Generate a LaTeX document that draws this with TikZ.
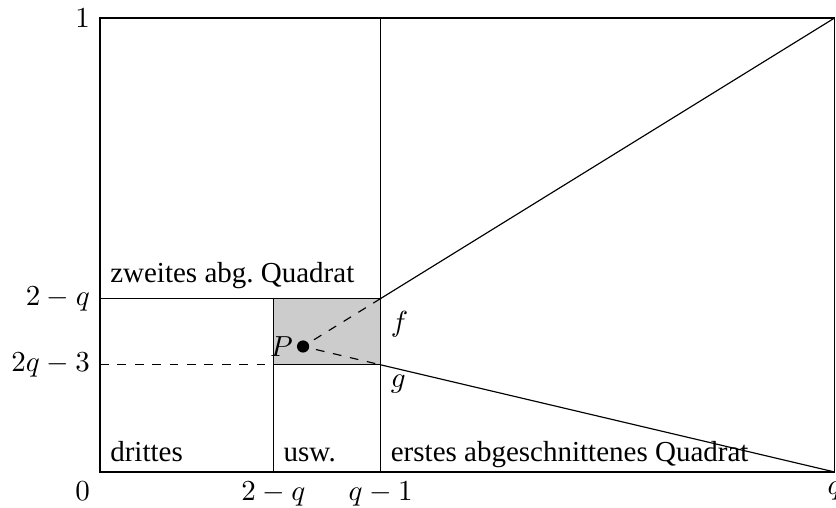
\documentclass[tikz,border=0pt]{standalone}
\usepackage[no-math]{fontspec}
\setmainfont{Liberation Serif}

\begin{document}
\begin{tikzpicture}[x=5.5cm,y=5.5cm,
	feld/.style={above right,text depth=0pt}]
\useasboundingbox (-0.2203,-0.0793) rectangle (1.6211,1.0396);

\def\q{1.618034}
% Fixpunkt der beiden Abbildungen
\def\px{0.447214}
\def\py{0.276393}

\coordinate (O) at (0,0);
\coordinate (A) at ({2-\q},0);
\coordinate (B) at ({\q-1},0);
\coordinate (C) at (\q,0);
\coordinate (D) at (\q,1);
\coordinate (E) at (0,1);
\coordinate (T) at ({\q-1},1);
\coordinate (L) at (0,{2-\q});
\coordinate (M) at (0,{2*\q-3});
\coordinate (K) at ({2-\q},{2-\q});
\coordinate (H) at ({2-\q},{2*\q-3});
\coordinate (F) at ({\q-1},{2-\q});
\coordinate (G) at ({\q-1},{2*\q-3});
\coordinate (P) at (\px,\py);

\filldraw[fill=gray!40] (H) rectangle (F);
\draw (O) rectangle (D);
\draw (B)--(T);
\draw (L)--(F);
\draw (A)--(K);
\draw[dashed] (M)--(H);

\draw (D)--(F);
\draw (C)--(G);
\draw[dashed] (F)--(P)--(G);
\fill (P) circle[radius=2.1pt];

\node (eins) at (E) [left] {$1$};
\node (null) at (O) [below left] {$0$};
\node (ylo) at (L) [left] {$2-q$};
\node (ylu) at (M) [left] {$2q-3$};
\node (xa) at (A) [below] {$2-q$};
\node (xb) at (B) [below] {$q-1$};
\node (xq) at (C) [below] {$q$};

\node (zweites) at (L) [above right] {zweites abg.\ Quadrat};
\node (drittes) at (O) [feld] {drittes};
\node (usw) at (A) [feld] {usw.};
\node (erstes) at (B) [feld] {erstes abgeschnittenes Quadrat};

\node (f) at ({\q-1},0.325) [right] {$f$};
\node (g) at (G) [below right] {$g$};
\node (p) at (P) [left] {$P$};

\end{tikzpicture}
\end{document}
